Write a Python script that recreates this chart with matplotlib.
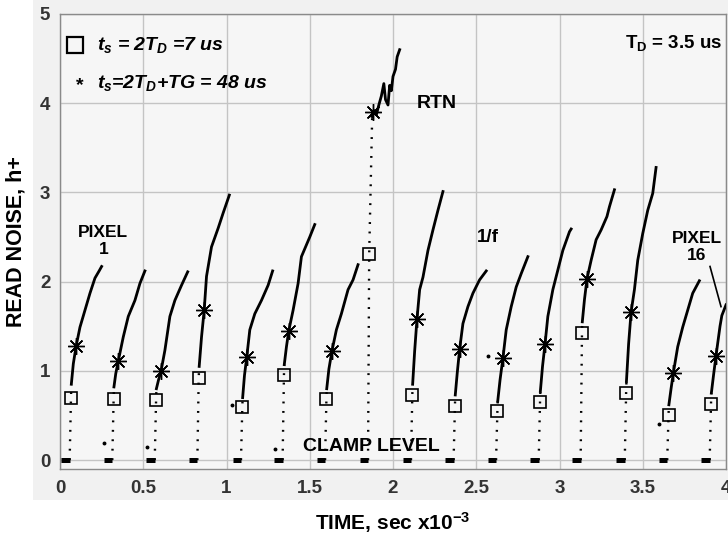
import matplotlib
matplotlib.use("Agg")
import matplotlib.pyplot as plt
from matplotlib.patches import Rectangle

plt.rcParams['font.family'] = ['Liberation Sans', 'DejaVu Sans']
plt.rcParams['font.weight'] = 'bold'
plt.rcParams['mathtext.fontset'] = 'custom'
plt.rcParams['mathtext.it'] = 'Liberation Sans:italic:bold'
plt.rcParams['mathtext.rm'] = 'Liberation Sans:bold'
plt.rcParams['mathtext.bf'] = 'Liberation Sans:bold'

# clamp window (start, end) for each of the 16 pixels, time in ms
clamp_t0 = [0.008, 0.262, 0.519, 0.775, 1.037, 1.287, 1.542, 1.800,
            2.058, 2.314, 2.569, 2.825, 3.077, 3.342, 3.597, 3.852]
clamp_t1 = [0.058, 0.314, 0.569, 0.825, 1.087, 1.337, 1.592, 1.850,
            2.108, 2.364, 2.619, 2.875, 3.127, 3.392, 3.647, 3.902]

# samples at ts = 2TD (squares) and ts = 2TD + TG (stars)
sq_t = [0.066, 0.322, 0.577, 0.833, 1.095, 1.345, 1.600, 1.857,
        2.116, 2.372, 2.627, 2.883, 3.135, 3.400, 3.655, 3.910]
sq_y = [0.70, 0.68, 0.67, 0.92, 0.60, 0.95, 0.68, 2.31,
        0.73, 0.61, 0.55, 0.65, 1.42, 0.75, 0.51, 0.63]
star_t = [0.097, 0.350, 0.607, 0.866, 1.122, 1.374, 1.633, 1.878,
          2.144, 2.400, 2.660, 2.913, 3.165, 3.430, 3.684, 3.940]
star_y = [1.28, 1.11, 1.00, 1.68, 1.16, 1.45, 1.22, 3.90,
          1.58, 1.24, 1.14, 1.30, 2.03, 1.66, 0.98, 1.17]

# read noise vs sample time after each pixel's rise
curves = [
    [(0.068, 0.85), (0.080, 1.08), (0.097, 1.28), (0.12, 1.49), (0.15, 1.68),
     (0.18, 1.87), (0.21, 2.04), (0.235, 2.12), (0.25, 2.17)],
    [(0.324, 0.82), (0.335, 0.97), (0.350, 1.11), (0.38, 1.38), (0.41, 1.61),
     (0.45, 1.79), (0.48, 1.98), (0.51, 2.12)],
    [(0.579, 0.80), (0.592, 0.90), (0.607, 1.00), (0.63, 1.23), (0.66, 1.61),
     (0.69, 1.79), (0.73, 1.96), (0.767, 2.11)],
    [(0.836, 1.05), (0.850, 1.38), (0.866, 1.68), (0.88, 2.06), (0.91, 2.39),
     (0.95, 2.60), (0.98, 2.77), (1.017, 2.97)],
    [(1.097, 0.70), (1.108, 0.95), (1.122, 1.16), (1.14, 1.46), (1.17, 1.64),
     (1.21, 1.79), (1.25, 1.96), (1.277, 2.12)],
    [(1.347, 1.07), (1.360, 1.27), (1.374, 1.45), (1.40, 1.68), (1.43, 1.98),
     (1.45, 2.28), (1.50, 2.50), (1.53, 2.64)],
    [(1.602, 0.80), (1.615, 1.02), (1.633, 1.22), (1.66, 1.46), (1.69, 1.64),
     (1.73, 1.91), (1.76, 2.02), (1.79, 2.19)],
    [(1.875, 3.85), (1.885, 3.92), (1.90, 3.87), (1.915, 3.98), (1.93, 4.08),
     (1.945, 4.22), (1.955, 4.04), (1.97, 3.98), (1.98, 4.20), (1.99, 4.14),
     (2.00, 4.30), (2.015, 4.38), (2.025, 4.52), (2.04, 4.60)],
    [(2.118, 0.85), (2.130, 1.22), (2.144, 1.58), (2.16, 1.91), (2.18, 2.05),
     (2.21, 2.35), (2.24, 2.58), (2.27, 2.80), (2.30, 3.01)],
    [(2.374, 0.73), (2.386, 0.98), (2.400, 1.24), (2.42, 1.53), (2.45, 1.72),
     (2.48, 1.87), (2.52, 2.02), (2.56, 2.12)],
    [(2.629, 0.66), (2.643, 0.90), (2.660, 1.14), (2.68, 1.46), (2.71, 1.72),
     (2.74, 1.94), (2.77, 2.09), (2.81, 2.28)],
    [(2.885, 0.77), (2.898, 1.05), (2.913, 1.30), (2.93, 1.61), (2.96, 1.91),
     (2.99, 2.13), (3.02, 2.35), (3.06, 2.56), (3.07, 2.59)],
    [(3.137, 1.55), (3.150, 1.80), (3.165, 2.03), (3.19, 2.24), (3.22, 2.47),
     (3.25, 2.58), (3.285, 2.73), (3.30, 2.84), (3.33, 3.03)],
    [(3.402, 0.88), (3.415, 1.30), (3.430, 1.66), (3.45, 1.91), (3.47, 2.24),
     (3.50, 2.54), (3.53, 2.80), (3.56, 2.99), (3.58, 3.28)],
    [(3.657, 0.62), (3.670, 0.80), (3.684, 0.98), (3.71, 1.27), (3.74, 1.49),
     (3.77, 1.68), (3.80, 1.87), (3.84, 2.01)],
    [(3.912, 0.75), (3.925, 0.95), (3.940, 1.17), (3.964, 1.50), (3.975, 1.62),
     (4.00, 1.74)],
]

# isolated samples between pixels
stray_t = [0.262, 0.52, 1.035, 1.29, 2.57, 3.60]
stray_y = [0.19, 0.15, 0.62, 0.12, 1.17, 0.40]

fig = plt.figure(figsize=(7.28, 5.35), dpi=100)
fig.patches.append(Rectangle((33 / 728, 35 / 535), 1, 1, transform=fig.transFigure,
                             facecolor='#f1f1f1', edgecolor='none', zorder=-10))
ax = fig.add_axes([60 / 728, 66 / 535, 666 / 728, 455 / 535])
ax.set_facecolor('#f6f6f6')

for i in range(16):
    ax.plot([clamp_t0[i], clamp_t1[i]], [0, 0], color='black', lw=3.6,
            solid_capstyle='butt', zorder=3)
    c = curves[i]
    ax.plot([clamp_t1[i], sq_t[i], c[0][0]], [0, sq_y[i], c[0][1]],
            color='black', lw=1.7, linestyle=(0, (0.8, 3.2)), zorder=3)
    ax.plot([p[0] for p in c], [p[1] for p in c], color='black', lw=2.0, zorder=3)

ax.plot(stray_t, stray_y, ls='none', marker='o', ms=1.8, color='black', zorder=3)
ax.plot(sq_t, sq_y, ls='none', marker='s', ms=8.5, mfc='none', mec='black',
        mew=1.2, zorder=4)
ax.plot(star_t, star_y, ls='none', marker=(8, 2, 0), ms=12, color='black',
        mew=1.0, zorder=4)

ax.set_xlim(0, 4)
ax.set_ylim(-0.1, 5)
ax.set_xticks([0, 0.5, 1, 1.5, 2, 2.5, 3, 3.5, 4])
ax.set_xticklabels(['0', '0.5', '1', '1.5', '2', '2.5', '3', '3.5', '4'])
ax.set_yticks([0, 1, 2, 3, 4, 5])
ax.tick_params(length=0, labelsize=13.5, labelcolor='#333333', pad=8)
ax.tick_params(axis='y', pad=7)
for lab in ax.get_xticklabels() + ax.get_yticklabels():
    lab.set_fontweight('bold')
ax.grid(True, color='#c4c4c4', lw=1.0)
ax.set_axisbelow(True)
for s in ax.spines.values():
    s.set_color('#8a8a8a')
    s.set_linewidth(1.0)

ax.set_xlabel(r'TIME, sec x10$^{-3}$', fontsize=15, fontweight='bold', labelpad=9)
ax.set_ylabel('READ NOISE, h+', fontsize=15.5, fontweight='bold', labelpad=10)

# legend glyphs and notes
ax.plot([0.0225], [0.932], transform=ax.transAxes, marker='s', ms=12, mfc='none',
        mec='black', mew=1.6, clip_on=False)
ax.text(0.0556, 0.932, r'$t_s$ = 2$T_D$ =7 us', transform=ax.transAxes,
        fontsize=14, fontweight='bold', style='italic', va='center')
ax.text(0.030, 0.842, '*', transform=ax.transAxes, fontsize=14, fontweight='bold',
        ha='center', va='center')
ax.text(0.0556, 0.848, r'$t_s$=2$T_D$+TG = 48 us', transform=ax.transAxes,
        fontsize=14, fontweight='bold', style='italic', va='center')
ax.text(0.994, 0.936, r'$\mathrm{T_D}$ = 3.5 us', transform=ax.transAxes,
        fontsize=13.5, fontweight='bold', ha='right', va='center')

ax.text(2.265, 4.0, 'RTN', fontsize=14, fontweight='bold', ha='center', va='center')
ax.text(0.26, 2.46, 'PIXEL\n1', fontsize=12.5, fontweight='bold', ha='center',
        va='center', linespacing=1.15)
ax.text(2.57, 2.49, '1/f', fontsize=13.5, fontweight='bold', ha='center', va='center')
ax.text(3.826, 2.39, 'PIXEL\n16', fontsize=12.5, fontweight='bold', ha='center',
        va='center', linespacing=1.15)
ax.plot([3.904, 3.97], [2.17, 1.72], color='black', lw=1.2)
ax.text(1.868, 0.157, 'CLAMP LEVEL', fontsize=14, fontweight='bold', ha='center',
        va='center', zorder=5)

fig.savefig('out.png', dpi=100)
